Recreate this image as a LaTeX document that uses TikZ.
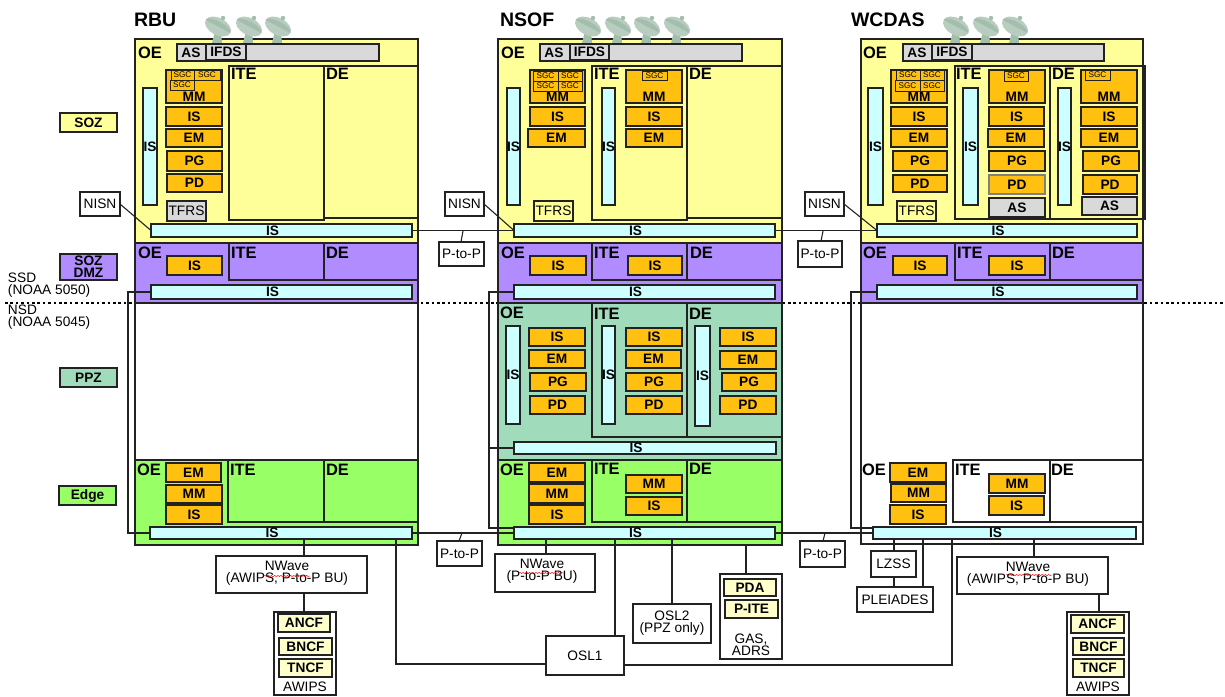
\documentclass[tikz,border=0pt]{standalone}
\usepackage{fontspec}
\setmainfont{Liberation Sans}
\usetikzlibrary{decorations.pathmorphing}
\definecolor{yz}{HTML}{FFFF99}
\definecolor{pz}{HTML}{B18CFF}
\definecolor{gz}{HTML}{99FF66}
\definecolor{tz}{HTML}{A0DCBC}
\definecolor{oc}{HTML}{FFC010}
\definecolor{cc}{HTML}{CCFFFF}
\definecolor{gc}{HTML}{D9D9D9}
\definecolor{pc}{HTML}{FFFFCC}
\definecolor{lnc}{HTML}{222222}
\definecolor{da}{HTML}{A4BEAE}
\definecolor{db}{HTML}{B8CDBF}
\newcommand{\BT}{IS\hspace*{18pt}}
\tikzset{
 base/.style={draw=lnc,line width=1.1pt,inner sep=0pt,outer sep=0pt,align=center,text=black,font=\fontsize{13.7}{12}\selectfont},
 bold/.style={base,font=\fontsize{13.7}{12}\selectfont\bfseries},
 ob/.style={bold,fill=oc},
 cb/.style={bold,fill=cc},
 gb/.style={bold,fill=gc},
 pb/.style={bold,fill=pc},
 wb/.style={base,fill=white},
 nb/.style={base},
 sb/.style={base,line width=0.8pt,font=\fontsize{8.2}{9}\selectfont},
 yzone/.style={base,fill=yz},
 pzone/.style={base,fill=pz},
 gzone/.style={base,fill=gz},
 tzone/.style={base,fill=tz},
 wzone/.style={base},
 lab/.style={anchor=west,inner sep=0pt,outer sep=0pt,font=\fontsize{16.5}{18}\selectfont\bfseries},
 ttl/.style={anchor=west,inner sep=0pt,outer sep=0pt,font=\fontsize{19.5}{20}\selectfont\bfseries},
 txt/.style={inner sep=0pt,outer sep=0pt,align=center,font=\fontsize{13.7}{12}\selectfont},
 txb/.style={inner sep=0pt,outer sep=0pt,align=center,font=\fontsize{13.7}{12}\selectfont\bfseries},
 conn/.style={draw=lnc,line width=1.1pt},
 heavy/.style={draw=lnc,line width=2pt},
 squig/.style={draw=red,line width=0.4pt,decorate,decoration={snake,amplitude=0.7pt,segment length=3.2pt}},
}
\newcommand{\BX}[7][nb]{%
 \pgfmathsetmacro\bxw{#5-#3}\pgfmathsetmacro\bxh{#6-#4}%
 \pgfmathsetmacro\bxx{(#5+#3)/2}\pgfmathsetmacro\bxy{(#6+#4)/2}%
 \node[#1,minimum width=\bxw pt,minimum height=\bxh pt] (#2) at (\bxx,\bxy) {#7};}
\newcommand{\MMB}[3]{% name, x1, x2
 \BX[ob]{#1}{#2}{70}{#3}{103}{}%
 \node[txb] (#1t) at ({(#2+#3)/2},97) {MM};}
\newcommand{\Dish}[1]{%
 \fill[da] (#1-6,43) -- (#1-3,31) -- (#1+3,31) -- (#1+4,43) -- cycle;
 \fill[db,rotate around={-28:(#1,26.5)}] (#1,26.5) ellipse [x radius=14pt,y radius=8.5pt];
 \fill[da,rotate around={-28:(#1,26.5)}] (#1-14,26.5) arc[start angle=180,end angle=360,x radius=14pt,y radius=-5pt] -- cycle;
 \fill[da] (#1+5,18) circle (2.2pt);}
\newcommand{\Vc}[3]{\draw[conn] (#1,0 |- #2) -- (#1,0 |- #3);}
\begin{document}
\begin{tikzpicture}[x=1pt,y=-1pt]
\useasboundingbox (0,0) rectangle (1225,696);
% dotted divider
\coordinate (dl) at (5,303); \coordinate (dr) at (1225,303);
\draw[line width=2.2pt,dash pattern=on 2.6pt off 2.8pt,black] (dl) -- (dr);
% legend
\BX[bold,fill=yz]{lsoz}{60}{113}{117}{132}{SOZ}
\BX[bold,fill=pz]{ldmz}{60}{254}{117}{280}{SOZ\\DMZ}
\BX[bold,fill=tz]{lppz}{60}{368}{117}{387}{PPZ}
\BX[bold,fill=gz]{ledge}{59}{486}{116}{505}{Edge}
\node[txt,anchor=west,align=left] (ssd) at (8,285) {SSD\\(NOAA 5050)};
\node[txt,anchor=west,align=left] (nsd) at (8,317) {NSD\\(NOAA 5045)};
% titles
\node[ttl] (trbu) at (134,20) {RBU};
\node[ttl] (tnsof) at (500,20) {NSOF};
\node[ttl] (twcd) at (851,20) {WCDAS};
% zones
\BX[yzone]{rY}{135}{39}{418}{243}{}
\BX[pzone]{rP}{135}{243}{418}{303}{}
\BX[wzone]{rW}{135}{303}{418}{460}{}
\BX[gzone]{rG}{135}{460}{418}{545}{}
\BX[yzone]{nY}{498}{39}{782}{243}{}
\BX[pzone]{nP}{498}{243}{782}{303}{}
\BX[tzone]{nT}{498}{303}{782}{460}{}
\BX[gzone]{nG}{498}{460}{782}{545}{}
\BX[yzone]{wY}{861}{39}{1143}{243}{}
\BX[pzone]{wP}{861}{243}{1143}{303}{}
\BX[wzone]{wW}{861}{303}{1143}{544}{}
\draw[heavy] (rG.south west) -- (rG.south east);
\draw[heavy] (nG.south west) -- (nG.south east);
\draw[heavy] (wY.north west) -- (wP.south west);
\draw[heavy] (rY.north east) -- (rP.south east);
% dishes
\Dish{218}\Dish{249}\Dish{278}
\Dish{588}\Dish{618}\Dish{647}\Dish{677}
\Dish{956}\Dish{986}\Dish{1015}
% ===== RBU =====
\BX{rITE}{229}{66}{324}{220}{}
\BX{rDE}{324}{66}{418}{218}{}
\BX{rITE2}{229}{243}{324}{280}{}
\BX{rDE2}{324}{243}{418}{280}{}
\BX{rITE4}{228}{460}{324}{522}{}
\BX{rDE4}{324}{460}{418}{522}{}
\foreach \n/\x/\y/\t in {a/138/53/OE,b/231/74/ITE,c/326/74/DE,d/138/253/OE,e/231/253/ITE,f/326/253/DE,g/137/470/OE,h/230/470/ITE,i/326/470/DE}
 {\node[lab] (rl\n) at (\x,\y) {\t};}
\BX[gb]{rAS}{177}{44}{379}{61}{}
\node[txb] (rASt) at (191,53) {AS};
\BX[gb,line width=1.4pt]{rIF}{206}{44}{246}{60}{IFDS}
\MMB{rMM}{166}{222}
\BX[sb]{rs1}{171}{70}{194}{80}{SGC}
\BX[sb]{rs2}{194}{70}{220}{80}{SGC}
\BX[sb]{rs3}{170}{80}{194}{90}{SGC}
\BX[ob]{ro1}{166}{107}{222}{126}{IS}
\BX[ob]{ro2}{166}{129}{222}{147}{EM}
\BX[ob]{ro3}{167}{151}{222}{171}{PG}
\BX[ob]{ro4}{167}{174}{222}{192}{PD}
\BX[cb]{rv}{143}{88}{157}{205}{IS}
\BX[base,fill=gc]{rTF}{167}{201}{206}{221}{TFRS}
\BX[wb]{rNI}{80}{192}{120}{216}{NISN}
\BX[cb]{rb1}{151}{224}{412}{237}{\BT}
\BX[ob]{ro5}{167}{256}{222}{275}{IS}
\BX[cb]{rb2}{151}{285}{412}{299}{\BT}
\BX[ob]{ro6}{166}{463}{221}{482}{EM}
\BX[ob]{ro7}{166}{485}{222}{503}{MM}
\BX[ob]{ro8}{166}{505}{222}{524}{IS}
\BX[cb]{rb4}{150}{527}{412}{539}{\BT}
\BX[wb]{rNW}{216}{556}{367}{593}{}
\node[txt] (rNWt) at (287,573) {NWave\\(AWIPS, P-to-P BU)};
\coordinate (rq1) at (264,576); \coordinate (rq2) at (310,576);
\draw[squig] (rq1) -- (rq2);
\BX[wb]{rAW}{274}{612}{336}{695}{}
\BX[pb]{rA1}{278}{614}{330}{632}{ANCF}
\BX[pb]{rA2}{279}{638}{332}{655}{BNCF}
\BX[pb]{rA3}{279}{659}{332}{677}{TNCF}
\node[txt] (rAWt) at (305,687) {AWIPS};
\draw[conn] (rNI.east) -- (rb1.west);
\draw[conn] (rb2.west) -- (128,0 |- rb2.west) -- (128,0 |- rb4.west) -- (rb4.west);
\Vc{304}{rb4.south}{rNW.north}
\Vc{304}{rNW.south}{rAW.north}
% ===== NSOF =====
\BX{nITE}{592}{66}{687}{220}{}
\BX{nDE}{687}{66}{782}{218}{}
\BX{nITE2}{592}{243}{687}{280}{}
\BX{nDE2}{687}{243}{782}{280}{}
\BX{nITE3}{592}{303}{687}{437}{}
\BX{nDE3}{687}{303}{782}{437}{}
\BX{nITE4}{592}{460}{687}{522}{}
\BX{nDE4}{687}{460}{782}{522}{}
\foreach \n/\x/\y/\t in {a/501/53/OE,b/594/74/ITE,c/689/74/DE,d/501/253/OE,e/594/253/ITE,f/690/253/DE,g/500/313/OE,h/594/314/ITE,i/689/314/DE,j/500/470/OE,k/594/469/ITE,l/689/469/DE}
 {\node[lab] (nl\n) at (\x,\y) {\t};}
\BX[gb]{nAS}{540}{44}{742}{61}{}
\node[txb] (nASt) at (554,53) {AS};
\BX[gb,line width=1.4pt]{nIF}{570}{44}{609}{60}{IFDS}
\MMB{nMM}{530}{585}
\BX[sb]{ns1}{533}{71}{558}{81}{SGC}
\BX[sb]{ns2}{558}{71}{582}{81}{SGC}
\BX[sb]{ns3}{533}{81}{558}{91}{SGC}
\BX[sb]{ns4}{558}{81}{582}{91}{SGC}
\BX[ob]{no1}{530}{107}{585}{126}{IS}
\BX[ob]{no2}{528}{129}{585}{147}{EM}
\BX[cb]{nv1}{507}{88}{520}{205}{IS}
\BX[cb]{nv2}{602}{88}{615}{205}{IS}
\MMB{nMM2}{626}{682}
\BX[sb]{ns5}{642}{71}{667}{80}{SGC}
\BX[ob]{no3}{626}{107}{682}{126}{IS}
\BX[ob]{no4}{626}{129}{682}{147}{EM}
\BX{nTF}{534}{201}{573}{221}{TFRS}
\BX[wb]{nNI}{445}{192}{484}{216}{NISN}
\BX[wb]{nPP1}{439}{242}{484}{266}{P-to-P}
\BX[cb]{nb1}{514}{224}{775}{237}{\BT}
\BX[ob]{no5}{530}{256}{586}{275}{IS}
\BX[ob]{no6}{628}{256}{682}{275}{IS}
\BX[cb]{nb2}{514}{285}{775}{299}{\BT}
\BX[cb]{nv3}{506}{326}{520}{424}{IS}
\BX[cb]{nv4}{602}{326}{615}{424}{IS}
\BX[cb]{nv5}{695}{326}{710}{426}{IS}
\BX[ob]{np1}{529}{328}{585}{346}{IS}
\BX[ob]{np2}{529}{350}{585}{368}{EM}
\BX[ob]{np3}{530}{373}{586}{391}{PG}
\BX[ob]{np4}{530}{396}{585}{414}{PD}
\BX[ob]{np5}{626}{328}{682}{346}{IS}
\BX[ob]{np6}{626}{350}{681}{368}{EM}
\BX[ob]{np7}{626}{373}{682}{391}{PG}
\BX[ob]{np8}{626}{396}{682}{414}{PD}
\BX[ob]{np9}{720}{328}{776}{346}{IS}
\BX[ob]{np10}{720}{351}{776}{369}{EM}
\BX[ob]{np11}{722}{373}{776}{391}{PG}
\BX[ob]{np12}{720}{396}{776}{414}{PD}
\BX[cb]{nb3}{514}{442}{776}{454}{\BT}
\BX[ob]{ne1}{529}{463}{585}{482}{EM}
\BX[ob]{ne2}{529}{484}{585}{503}{MM}
\BX[ob]{ne3}{529}{505}{585}{524}{IS}
\BX[ob]{ne4}{626}{475}{682}{493}{MM}
\BX[ob]{ne5}{626}{497}{682}{515}{IS}
\BX[cb]{nb4}{514}{527}{775}{539}{\BT}
\BX[wb]{nPP2}{437}{541}{482}{566}{P-to-P}
\BX[wb]{nNW}{495}{554}{595}{592}{}
\node[txt] (nNWt) at (542,571.5) {NWave\\(P-to-P BU)};
\coordinate (nq1) at (519,573); \coordinate (nq2) at (564,573);
\draw[squig] (nq1) -- (nq2);
\BX[wb]{nO1}{546}{636}{624}{675}{OSL1}
\BX[wb]{nO2}{633}{604}{711}{643}{OSL2\\(PPZ only)}
\BX[wb]{nGA}{720}{574}{782}{659}{}
\BX[pb]{nG1}{724}{579}{776}{596}{PDA}
\BX[pb]{nG2}{725}{600}{778}{618}{P-ITE}
\node[txt] (nGAt) at (751,644.5) {GAS,\\ADRS};
\draw[conn] (nNI.east) -- (nb1.west);
\draw[conn] (rb1.east) -- (nb1.west);
\coordinate (t1) at (463,231);
\draw[conn] (t1) -- (461,0 |- nPP1.north);
\draw[conn] (nb2.west) -- (489,0 |- nb2.west) -- (489,0 |- 0,528) -- ([yshift=5pt]nb4.west);
\draw[conn] (489,0 |- nb3.west) -- (nb3.west);
\draw[conn] (rb4.east) -- (nb4.west);
\coordinate (t2) at (462,533);
\draw[conn] (t2) -- (459,0 |- nPP2.north);
\Vc{546}{nb4.south}{nNW.north}
\Vc{615}{nb4.south}{nO1.north}
\Vc{672}{nb4.south}{nO2.north}
\Vc{746}{nG.south}{nGA.north}
\draw[conn] (396,0 |- rb4.south) -- (396,0 |- 0,664) -- ([yshift=-8.5pt]nO1.west);
% ===== WCDAS =====
\BX{wITE}{955}{66}{1050}{219}{}
\BX{wDE}{1050}{66}{1145}{219}{}
\BX{wITE2}{955}{243}{1050}{280}{}
\BX{wDE2}{1050}{243}{1143}{280}{}
\BX{wITE4}{953}{460}{1050}{522}{}
\BX{wDE4}{1050}{460}{1143}{522}{}
\foreach \n/\x/\y/\t in {a/863/53/OE,b/956/74/ITE,c/1052/74/DE,d/863/253/OE,e/957/253/ITE,f/1052/253/DE,g/862/470/OE,h/955/470/ITE,i/1051/470/DE}
 {\node[lab] (wl\n) at (\x,\y) {\t};}
\BX[gb]{wAS}{903}{44}{1104}{61}{}
\node[txb] (wASt) at (917,53) {AS};
\BX[gb,line width=1.4pt]{wIF}{932}{44}{972}{60}{IFDS}
\MMB{wMM}{891}{947}
\BX[sb]{ws1}{896}{70}{920}{80}{SGC}
\BX[sb]{ws2}{920}{70}{944}{80}{SGC}
\BX[sb]{ws3}{895}{80}{920}{91}{SGC}
\BX[sb]{ws4}{920}{80}{944}{91}{SGC}
\BX[ob]{wo1}{891}{107}{947}{126}{IS}
\BX[ob]{wo2}{891}{129}{947}{147}{EM}
\BX[ob]{wo3}{893}{151}{947}{171}{PG}
\BX[ob]{wo4}{893}{175}{947}{192}{PD}
\BX[cb]{wv1}{868}{88}{883}{205}{IS}
\BX[cb]{wv2}{963}{88}{978}{205}{IS}
\BX[cb]{wv3}{1058}{88}{1071}{205}{IS}
\MMB{wMM2}{989}{1045}
\BX[sb]{ws5}{1004}{71}{1028}{81}{SGC}
\BX[ob]{wo5}{989}{107}{1044}{126}{IS}
\BX[ob]{wo6}{988}{129}{1044}{147}{EM}
\BX[ob]{wo7}{989}{151}{1045}{171}{PG}
\BX[ob,draw=gray]{wo8}{989}{175}{1045}{194}{PD}
\BX[gb]{wo9}{989}{198}{1045}{217}{AS}
\MMB{wMM3}{1081}{1137}
\BX[sb]{ws6}{1085}{70}{1110}{80}{SGC}
\BX[ob]{wo10}{1081}{107}{1137}{126}{IS}
\BX[ob]{wo11}{1081}{129}{1137}{147}{EM}
\BX[ob]{wo12}{1083}{151}{1139}{171}{PG}
\BX[ob]{wo13}{1083}{175}{1137}{194}{PD}
\BX[gb]{wo14}{1082}{197}{1137}{215}{AS}
\BX{wTF}{897}{201}{936}{221}{TFRS}
\BX[wb]{wNI}{805}{192}{844}{216}{NISN}
\BX[wb]{wPP1}{798}{241}{842}{267}{P-to-P}
\BX[cb]{wb1}{877}{224}{1137}{237}{\BT}
\BX[ob]{wo15}{893}{256}{947}{275}{IS}
\BX[ob]{wo16}{989}{256}{1045}{275}{IS}
\BX[cb]{wb2}{877}{285}{1137}{299}{\BT}
\BX[ob]{we1}{890}{463}{946}{482}{EM}
\BX[ob]{we2}{891}{484}{946}{502}{MM}
\BX[ob]{we3}{890}{505}{946}{524}{IS}
\BX[ob]{we4}{989}{474}{1045}{493}{MM}
\BX[ob]{we5}{989}{496}{1044}{515}{IS}
\BX[cb]{wb4}{873}{527}{1136}{539}{\BT}
\BX[wb]{wPP2}{800}{541}{845}{567}{P-to-P}
\BX[wb]{wLZ}{871}{551}{916}{577}{LZSS}
\BX[wb]{wPL}{857}{587}{933}{612}{PLEIADES}
\BX[wb]{wNW}{957}{557}{1108}{594}{}
\node[txt] (wNWt) at (1028,574) {NWave\\(AWIPS, P-to-P BU)};
\coordinate (wq1) at (1006,575); \coordinate (wq2) at (1052,575);
\draw[squig] (wq1) -- (wq2);
\BX[wb]{wAW}{1067}{612}{1129}{695}{}
\BX[pb]{wA1}{1071}{615}{1124}{633}{ANCF}
\BX[pb]{wA2}{1073}{638}{1124}{655}{BNCF}
\BX[pb]{wA3}{1073}{659}{1124}{677}{TNCF}
\node[txt] (wAWt) at (1098,687) {AWIPS};
\draw[conn] (wNI.east) -- (wb1.west);
\draw[conn] (nb1.east) -- (wb1.west);
\coordinate (t3) at (823,231);
\draw[conn] (t3) -- (821,0 |- wPP1.north);
\draw[conn] (nb4.east) -- (wb4.west);
\coordinate (t4) at (825,533);
\draw[conn] (t4) -- (823,0 |- wPP2.north);
\draw[conn] (wb2.west) -- (851,0 |- wb2.west) -- (851,0 |- 0,528) -- ([yshift=5pt]wb4.west);
\Vc{894}{wb4.south}{wLZ.north}
\Vc{894}{wLZ.south}{wPL.north}
\Vc{923}{wb4.south}{wPL.north}
\Vc{1034}{wb4.south}{wNW.north}
\Vc{1099}{wNW.south}{wAW.north}
\draw[conn] ([yshift=-9.5pt]nO1.east) -- (952,0 |- 0,665) -- (952,0 |- wb4.south);
\end{tikzpicture}
\end{document}
